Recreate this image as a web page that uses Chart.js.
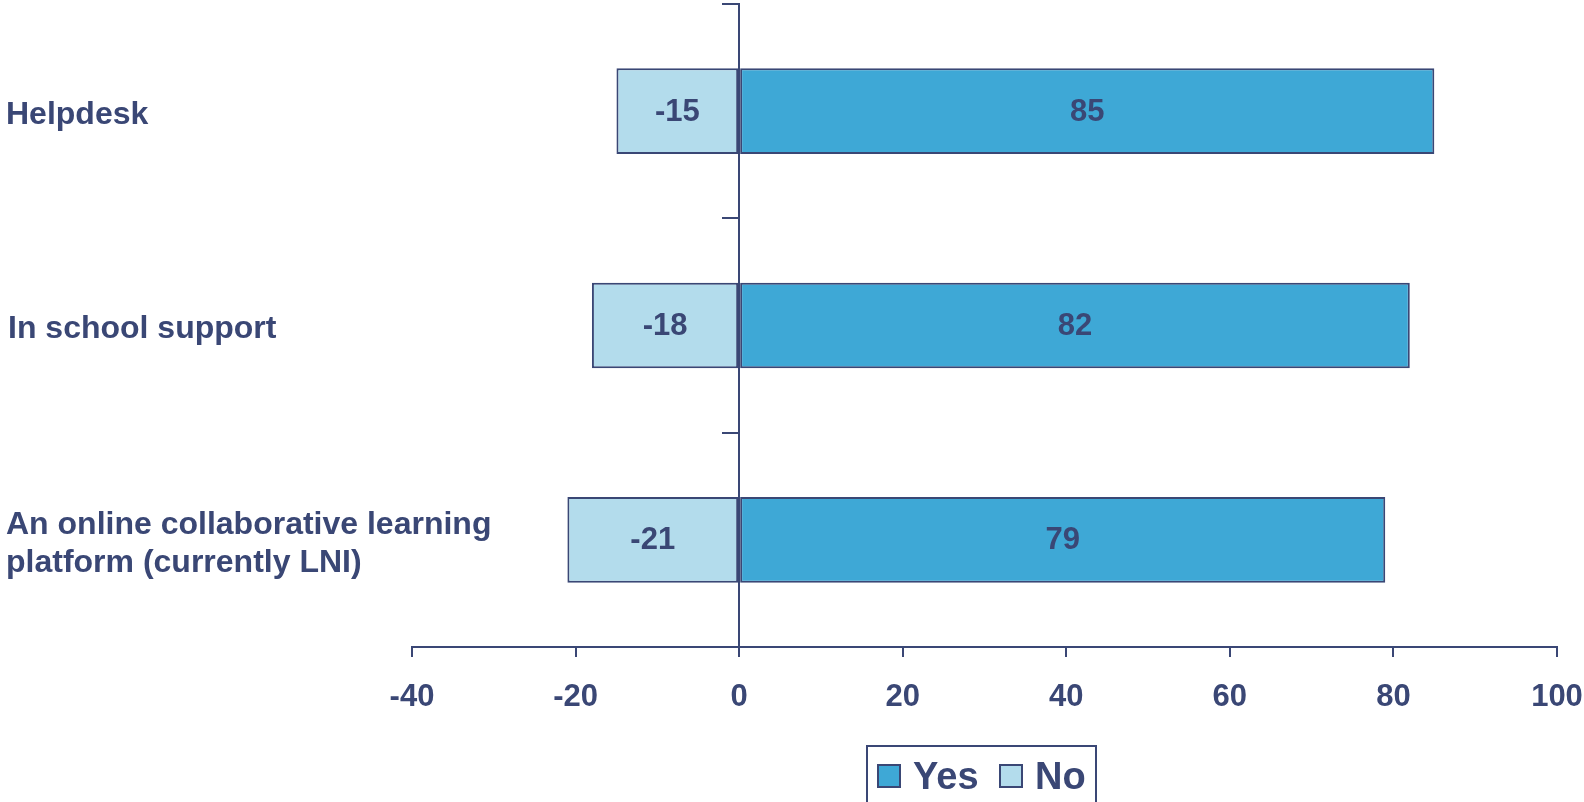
<!DOCTYPE html>
<html><head><meta charset="utf-8">
<script src="https://cdn.jsdelivr.net/npm/chart.js@4/dist/chart.umd.min.js"></script>
<style>
html,body{margin:0;padding:0;background:#fff;}
#wrap{position:relative;width:1584px;height:802px;overflow:hidden;}
#legend{position:absolute;left:866px;top:745px;width:231px;height:80px;border:2px solid #3a4775;box-sizing:border-box;
  font:bold 38px "Liberation Sans",Arial,sans-serif;color:#3a4775;line-height:1;}
#legend span.sw{position:absolute;top:17px;width:20px;height:20px;border:2px solid #3a4775;}
#legend span.t{position:absolute;top:10px;}
</style></head>
<body>
<div id="wrap">
<canvas id="c" width="1584" height="802"></canvas>
<div id="legend">
  <span class="sw" style="left:9px;background:#3ea8d6"></span><span class="t" style="left:45px">Yes</span>
  <span class="sw" style="left:131px;background:#b3dcec"></span><span class="t" style="left:167px">No</span>
</div>
</div>
<script>
'use strict';
const NAVY='#3a4775';
const FONT='"Liberation Sans", Arial, sans-serif';
const categories=[['Helpdesk'],['In school support'],['An online collaborative learning','platform (currently LNI)']];
const yesVals=[85,82,79];
const noVals=[-15,-18,-21];
const xTicks=[-40,-20,0,20,40,60,80,100];

// values inside bars
const barLabels={
  id:'barLabels',
  afterDatasetsDraw(chart){
    const ctx=chart.ctx;
    ctx.save();
    ctx.font='bold 31px '+FONT; ctx.fillStyle=NAVY; ctx.textAlign='center'; ctx.textBaseline='middle';
    chart.data.datasets.forEach((ds,i)=>{
      chart.getDatasetMeta(i).data.forEach((el,j)=>{
        ctx.fillText(String(ds.data[j]), (el.x+el.base)/2, el.y+1);
      });
    });
    ctx.restore();
  }
};
// category names at far left (they run into the plot area, so not an axis)
const catLabels={
  id:'catLabels',
  afterDraw(chart){
    const ctx=chart.ctx, y=chart.scales.y;
    ctx.save();
    ctx.font='bold 32px '+FONT; ctx.fillStyle=NAVY; ctx.textAlign='left'; ctx.textBaseline='middle';
    categories.forEach((lines,i)=>{
      const cy=y.getPixelForValue(i)+4, lh=38, y0=cy-(lines.length-1)*lh/2;
      lines.forEach((t,k)=>ctx.fillText(t, i===1?8:6, y0+k*lh));
    });
    ctx.restore();
  }
};

new Chart(document.getElementById('c'),{
  type:'bar',
  data:{labels:categories.map(l=>l.join(' ')),datasets:[
    {label:'Yes',data:yesVals,backgroundColor:'#3ea8d6',borderColor:NAVY,borderWidth:2,borderSkipped:false,barPercentage:0.4,categoryPercentage:1},
    {label:'No',data:noVals,backgroundColor:'#b3dcec',borderColor:NAVY,borderWidth:2,borderSkipped:false,barPercentage:0.4,categoryPercentage:1}
  ]},
  options:{
    indexAxis:'y',responsive:false,animation:false,
    layout:{padding:{top:4,right:27,bottom:0,left:412}},
    plugins:{legend:{display:false},tooltip:{enabled:false}},
    scales:{
      x:{type:'linear',stacked:true,min:-40,max:100,
        afterBuildTicks(s){ s.ticks=xTicks.map(v=>({value:v})); },
        afterFit(s){ s.height=155; s.paddingLeft=0; s.paddingRight=0; },
        border:{display:true,color:NAVY,width:2},
        grid:{drawOnChartArea:false,drawTicks:true,tickLength:10,color:NAVY,lineWidth:2},
        ticks:{color:NAVY,font:{family:FONT,size:31,weight:'bold'},padding:22}},
      y:{type:'category',stacked:true,position:{x:0},
        border:{display:true,color:NAVY,width:2},
        grid:{offset:true,drawOnChartArea:false,drawTicks:true,tickLength:16,color:NAVY,lineWidth:2},
        ticks:{display:false}}
    }
  },
  plugins:[barLabels,catLabels]
});
</script>
</body></html>
